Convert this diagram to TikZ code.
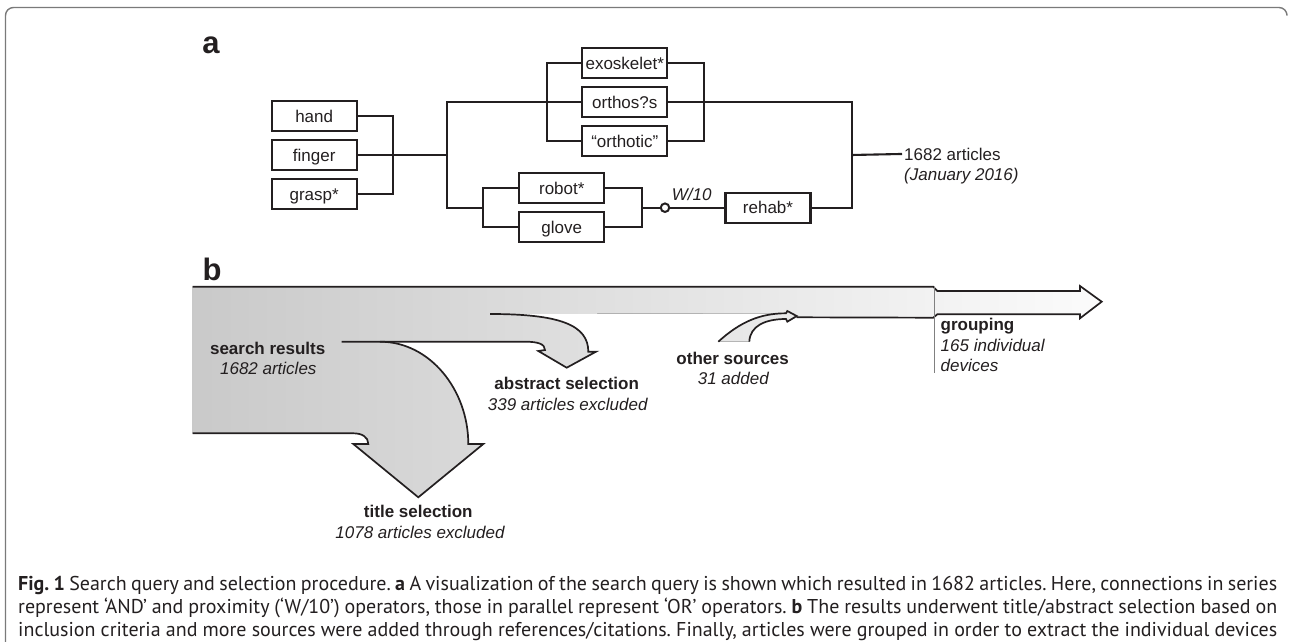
\documentclass[tikz,border=0pt]{standalone}
\usepackage{fontspec}
\setmainfont{Liberation Sans}
\newfontfamily\capfont{PT Sans}
\definecolor{ink}{HTML}{231F20}
\definecolor{framec}{HTML}{7A7A7A}
\definecolor{bandL}{gray}{0.79}
\definecolor{bandR}{gray}{0.985}
\frenchspacing
\begin{document}
\begin{tikzpicture}[x=1pt,y=-1pt,
  txt/.style={font=\fontsize{17}{20}\selectfont, text=ink, inner sep=0pt},
  qbox/.style={txt, draw=ink, line width=2.1pt, minimum width=85pt, minimum height=30pt, text height=12pt, text depth=0pt},
  wire/.style={draw=ink, line width=2.1pt},
  lbl/.style={txt, anchor=base},
  ilbl/.style={lbl, font=\itshape\fontsize{17}{20}\selectfont},
  blbl/.style={lbl, font=\bfseries\fontsize{17}{20}\selectfont},
  sline/.style={draw=ink, line width=1.7pt},
  panel/.style={anchor=base, inner sep=0pt, text=ink, font=\bfseries\fontsize{31}{31}\selectfont},
  capline/.style={anchor=base west, inner sep=0pt, text=ink, font=\capfont\fontsize{20}{23}\selectfont}]
\useasboundingbox (0,0) rectangle (1290,642);
% frame
\draw[framec, line width=1.4pt, rounded corners=8pt] (5.5,642) -- (5.5,7.5) -- (1287,7.5) -- (1287,14);

% ---------------- panel a ----------------
\node[panel] (la) at (211,53.3) {a};
\node[qbox] (hand)     at (314.2,116)   {hand};
\node[qbox] (finger)   at (314.2,155)   {finger};
\node[qbox] (grasp)    at (314.2,194)   {grasp*};
\node[qbox] (exo)      at (624.8,63.3)  {exoskelet*};
\node[qbox] (orthos)   at (624.8,102)   {orthos?s};
\node[qbox] (orthotic) at (624.8,141)   {“orthotic”};
\node[qbox] (robot)    at (561.8,188.3) {robot*};
\node[qbox] (glove)    at (561.8,227)   {glove};
\node[qbox] (rehab)    at (768,207.7)   {rehab*};
\node[circle, draw=ink, fill=white, line width=2pt, minimum size=8.5pt, inner sep=0pt] (prox) at (665,207.7) {};
\node[ilbl, anchor=base west] (w10) at (671.7,200) {W/10};
\node[lbl, anchor=base west] (res) at (904,160) {1682 articles};
\node[ilbl, anchor=base west] (date) at (904,180) {(January 2016)};

\coordinate (j1)   at (393.3,155);
\coordinate (j2)   at (446.7,155);
\coordinate (j3)   at (546.7,102);
\coordinate (j4)   at (704,102);
\coordinate (jlow) at (483.3,207.7);
\coordinate (jr)   at (641.7,207.7);
\coordinate (jout) at (851.7,155);

\draw[wire] (hand.east) -| (j1) |- (grasp.east);
\draw[wire] (finger.east) -- (j2);
\draw[wire] (orthos.west) -| (j2) |- (jlow);
\draw[wire] (exo.west) -| (j3) |- (orthotic.west);
\draw[wire] (exo.east) -| (j4) |- (orthotic.east);
\draw[wire] (robot.west) -| (jlow) |- (glove.west);
\draw[wire] (robot.east) -| (jr) |- (glove.east);
\draw[wire] (jr) -- (prox);
\draw[wire] (prox) -- (rehab);
\draw[wire] (orthos.east) -| (jout) |- (rehab.east);
\draw[wire, shorten >=2pt] (jout) -- (res.west);

% ---------------- panel b ----------------
\node[panel] (lb) at (212,280) {b};

\fill[left color=bandL, right color=bandR]
  (192.7,286.7) -- (933.3,286.7) -- (937.3,291) -- (1080,291) -- (1080,286)
  -- (1101.7,301.7) -- (1080,318.3) -- (1080,314.3) -- (937.3,314.3) -- (933.3,317.7)
  -- (796.7,317.3) -- (787.3,321.7) -- (786,319)
  .. controls (765,319) and (750,326) .. (749.3,341.7) -- (718.3,341.7)
  .. controls (740,322) and (760,313.3) .. (786,313.3) -- (490,314)
  .. controls (560,314) and (588.3,325) .. (588.3,351.7) -- (596,351.7) -- (566.7,367.7)
  -- (538.3,351) -- (545,350) .. controls (545,344) and (538,341.7) .. (525,341.7)
  -- (380,341.7) .. controls (430,341.7) and (468.3,390) .. (468.3,444)
  -- (483.3,444) -- (418.3,497.3) -- (353.3,444) -- (368.3,444)
  .. controls (368.3,437) and (362,433.3) .. (353.3,433.3) -- (192.7,433.3) -- cycle;

% main band and grouping arrow
\draw[sline] (192.7,286.7) -- (933.3,286.7) -- (937.3,291) -- (1080,291) -- (1080,286)
  -- (1101.7,301.7) -- (1080,318.3) -- (1080,314.3) -- (937.3,314.3) -- (933.3,317.7) -- (796.7,317.3);
% other sources
\draw[sline] (718.3,341.7) .. controls (740,322) and (760,313.3) .. (786,313.3) -- (787.3,311)
  -- (796.7,316) -- (787.3,321.7) -- (786,319) .. controls (765,319) and (750,326) .. (749.3,341.7);
% abstract selection
\draw[sline] (490,314) .. controls (560,314) and (588.3,325) .. (588.3,351.7) -- (596,351.7)
  -- (566.7,367.7) -- (538.3,351) -- (545,350) .. controls (545,344) and (538,341.7) .. (525,341.7)
  -- (341.7,341.7);
% title selection
\draw[sline] (380,341.7) .. controls (430,341.7) and (468.3,390) .. (468.3,444) -- (483.3,444)
  -- (418.3,497.3) -- (353.3,444) -- (368.3,444) .. controls (368.3,437) and (362,433.3) .. (353.3,433.3)
  -- (192.7,433.3);
% separator
\draw[gray, line width=0.7pt] (934,287) -- (934,373.3);

\node[blbl] (sr)  at (267.7,354)   {search results};
\node[ilbl] (sr2) at (268.3,374.3) {1682 articles};
\node[blbl] (as)  at (566.7,389)   {abstract selection};
\node[ilbl] (as2) at (567.7,410)   {339 articles excluded};
\node[blbl] (ts)  at (418.3,517.7) {title selection};
\node[ilbl] (ts2) at (420,538.3)   {1078 articles excluded};
\node[blbl] (os)  at (732.7,364)   {other sources};
\node[ilbl] (os2) at (733.3,384.3) {31 added};
\node[blbl, anchor=base west] (gr)  at (940.5,330)   {grouping};
\node[ilbl, anchor=base west] (gr2) at (940.5,351)   {165 individual};
\node[ilbl, anchor=base west] (gr3) at (940.5,371.5) {devices};

% caption
\node[capline] (c1) at (18,590) {\makebox[1259pt][s]{\textbf{Fig. 1} Search query and selection procedure. \textbf{a} A visualization of the search query is shown which resulted in 1682 articles. Here, connections in series}};
\node[capline] (c2) at (18,613) {\makebox[1259pt][s]{represent ‘AND’ and proximity (‘W/10’) operators, those in parallel represent ‘OR’ operators. \textbf{b} The results underwent title/abstract selection based on}};
\node[capline] (c3) at (18,636) {\makebox[1259pt][s]{inclusion criteria and more sources were added through references/citations. Finally, articles were grouped in order to extract the individual devices}};
\end{tikzpicture}
\end{document}
